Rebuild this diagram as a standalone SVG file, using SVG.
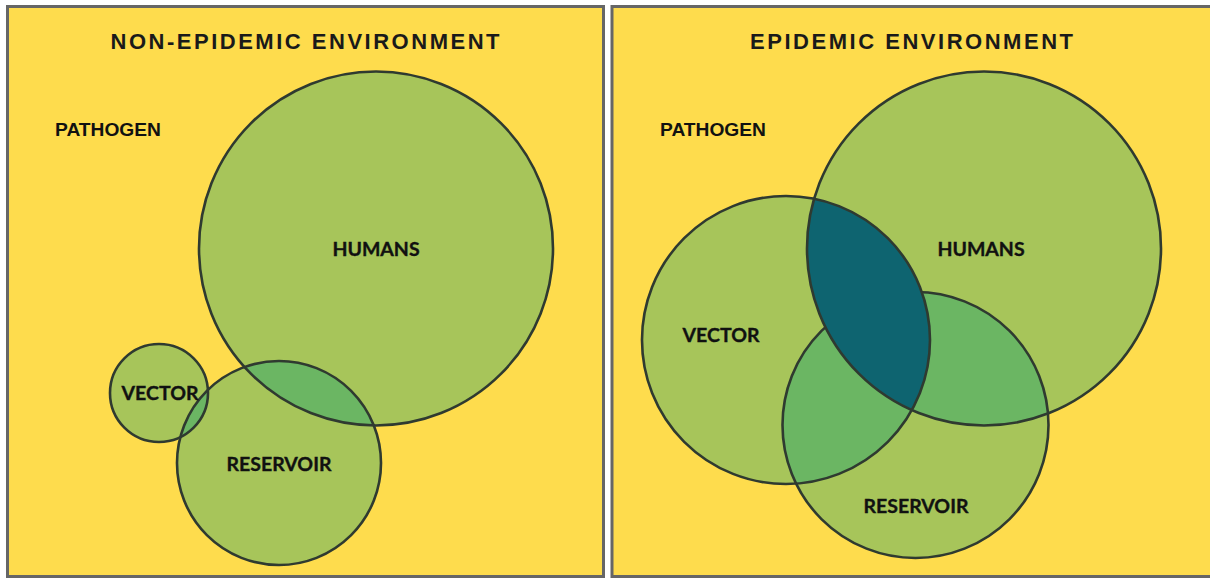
<svg xmlns="http://www.w3.org/2000/svg" width="1210" height="578" viewBox="0 0 1210 578">
<style>
.panel{fill:#FEDC4D;stroke:#666666;stroke-width:3}
.title{font-family:"Liberation Sans",Arial,sans-serif;font-weight:700;font-size:22px;fill:#1a1a1a;text-anchor:middle}
.path{font-family:"Liberation Sans",Arial,sans-serif;font-weight:700;font-size:18px;fill:#111}
.lbl{font-family:Lato,"Open Sans",sans-serif;font-weight:700;font-size:19.5px;fill:#111;stroke:#111;stroke-width:0.35;text-anchor:middle}
.fill{fill:#A7C55A}
.ov{fill:#6BB663}
.teal{fill:#0E6470}
.ol{fill:none;stroke:#2f3a30;stroke-width:2.6}
</style>
<defs>
<clipPath id="cLH"><circle cx="376" cy="248.5" r="177"/></clipPath>
<clipPath id="cLV"><circle cx="159" cy="393" r="49"/></clipPath>
<clipPath id="cRH"><circle cx="984" cy="248.5" r="177"/></clipPath>
<clipPath id="cRV"><circle cx="786" cy="340" r="144"/></clipPath>
</defs>
<rect width="1210" height="578" fill="#ffffff"/>
<g id="panel-non-epidemic">
<rect class="panel" x="7.5" y="6.5" width="596" height="570"/>
<text class="title" x="305" y="48.5" textLength="389" lengthAdjust="spacing">NON-EPIDEMIC ENVIRONMENT</text>
<text class="path" x="55" y="135.5" textLength="106" lengthAdjust="spacingAndGlyphs">PATHOGEN</text>
</g>
<g id="panel-epidemic">
<rect class="panel" x="612" y="6.5" width="610" height="570"/>
<text class="title" x="911.5" y="48.5" textLength="323" lengthAdjust="spacing">EPIDEMIC ENVIRONMENT</text>
<text class="path" x="660" y="135.5" textLength="106" lengthAdjust="spacingAndGlyphs">PATHOGEN</text>
</g>
<g id="left-circles">
<g id="left-humans"><circle class="fill" cx="376" cy="248.5" r="177"/></g>
<g id="left-vector"><circle class="fill" cx="159" cy="393" r="49"/></g>
<g id="left-reservoir"><circle class="fill" cx="279" cy="463" r="102"/></g>
<circle class="ov" cx="279" cy="463" r="102" clip-path="url(#cLH)"/>
<circle class="ov" cx="279" cy="463" r="102" clip-path="url(#cLV)"/>
<circle class="ol" cx="376" cy="248.5" r="177"/>
<circle class="ol" cx="159" cy="393" r="49"/>
<circle class="ol" cx="279" cy="463" r="102"/>
<text class="lbl" x="376" y="256">HUMANS</text>
<text class="lbl" x="160" y="400">VECTOR</text>
<text class="lbl" x="279" y="471">RESERVOIR</text>
</g>
<g id="right-circles">
<g id="right-humans"><circle class="fill" cx="984" cy="248.5" r="177"/></g>
<g id="right-vector"><circle class="fill" cx="786" cy="340" r="144"/></g>
<g id="right-reservoir"><circle class="fill" cx="915.5" cy="425" r="133"/></g>
<circle class="ov" cx="915.5" cy="425" r="133" clip-path="url(#cRH)"/>
<circle class="ov" cx="915.5" cy="425" r="133" clip-path="url(#cRV)"/>
<circle class="ol" cx="915.5" cy="425" r="133"/>
<circle class="teal" cx="786" cy="340" r="144" clip-path="url(#cRH)"/>
<circle class="ol" cx="984" cy="248.5" r="177"/>
<circle class="ol" cx="786" cy="340" r="144"/>
<text class="lbl" x="981" y="256">HUMANS</text>
<text class="lbl" x="721" y="342">VECTOR</text>
<text class="lbl" x="916" y="513">RESERVOIR</text>
</g>
<g id="connectors"/>
</svg>
